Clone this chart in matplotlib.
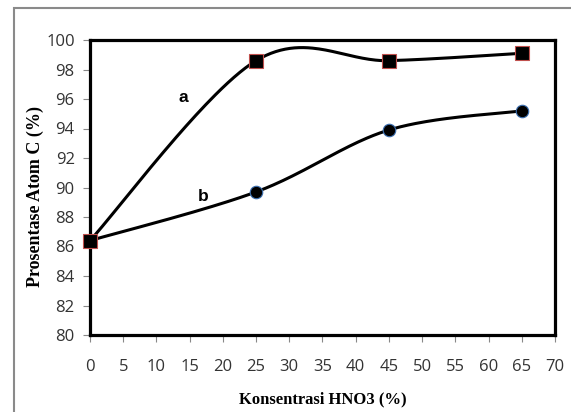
# Grafik persentase atom C terhadap konsentrasi HNO3

import numpy as np
import matplotlib.pyplot as plt
from matplotlib.patches import Rectangle

# Data
konsentrasi = [0, 25, 45, 65]
atom_c_a = [86.4, 98.6, 98.6, 99.1]
atom_c_b = [86.4, 89.7, 93.9, 95.2]
xticks = list(range(0, 75, 5))
yticks = list(range(80, 102, 2))


# Garis halus ala Excel (Catmull-Rom / Bezier)
def halus(x, y, n=60):
    p = np.column_stack([x, y]).astype(float)
    p = np.vstack([p[0], p, p[-1]])
    hasil = []
    t = np.linspace(0, 1, n)[:, None]
    for i in range(1, len(p) - 2):
        p0, p1, p2, p3 = p[i - 1], p[i], p[i + 1], p[i + 2]
        c1 = p1 + (p2 - p0) / 6
        c2 = p2 - (p3 - p1) / 6
        seg = ((1 - t) ** 3) * p1 + 3 * ((1 - t) ** 2) * t * c1 \
            + 3 * (1 - t) * t ** 2 * c2 + t ** 3 * p2
        hasil.append(seg)
    hasil = np.vstack(hasil)
    return hasil[:, 0], hasil[:, 1]


fig = plt.figure(figsize=(5.71, 4.12), dpi=100)
ax = fig.add_axes([90 / 571, 1 - 335 / 412, 465 / 571, 295 / 412])

# bingkai abu-abu
fig.patches.append(Rectangle((14 / 571, -0.1), 1.1, 1.1 - 8 / 412,
                             transform=fig.transFigure, fill=False,
                             edgecolor="#8a8a8a", linewidth=1.5))

xa, ya = halus(konsentrasi, atom_c_a)
xb, yb = halus(konsentrasi, atom_c_b)
ax.plot(xa, ya, color="black", linewidth=2.2, zorder=3)
ax.plot(xb, yb, color="black", linewidth=2.2, zorder=3)
ax.plot(konsentrasi, atom_c_b, linestyle="none", marker="o", markersize=9,
        markerfacecolor="black", markeredgecolor="#3b6fb0", markeredgewidth=0.8,
        zorder=4, clip_on=False)
ax.plot(konsentrasi, atom_c_a, linestyle="none", marker="s", markersize=10,
        markerfacecolor="black", markeredgecolor="#c0504d", markeredgewidth=0.8,
        zorder=5, clip_on=False)

ax.text(14, 96.1, "a", fontsize=12.5, fontweight="bold", ha="center", va="center",
        family="Liberation Sans")
ax.text(17, 89.4, "b", fontsize=12.5, fontweight="bold", ha="center", va="center",
        family="Liberation Sans")

ax.set_xlim(0, 70)
ax.set_ylim(80, 100)
ax.set_xticks(xticks)
ax.set_yticks(yticks)
for s in ax.spines.values():
    s.set_linewidth(2.3)
    s.set_color("black")
ax.tick_params(axis="x", direction="out", length=5, width=0.8, color="#888888",
               pad=12, labelsize=12, labelcolor="#333333")
ax.tick_params(axis="y", direction="out", length=5, width=0.8, color="#888888",
               pad=6, labelsize=12, labelcolor="#333333")
for lbl in ax.get_xticklabels() + ax.get_yticklabels():
    lbl.set_family("Open Sans")

ax.set_xlabel("Konsentrasi HNO3 (%)", fontsize=12, fontweight="bold",
              family="Liberation Serif", labelpad=12)
ax.set_ylabel("Prosentase Atom C (%)", fontsize=13, fontweight="bold",
              family="Liberation Serif", labelpad=6)
ax.yaxis.set_label_coords(-0.098, 0.47)

fig.savefig("out.png", dpi=100)
